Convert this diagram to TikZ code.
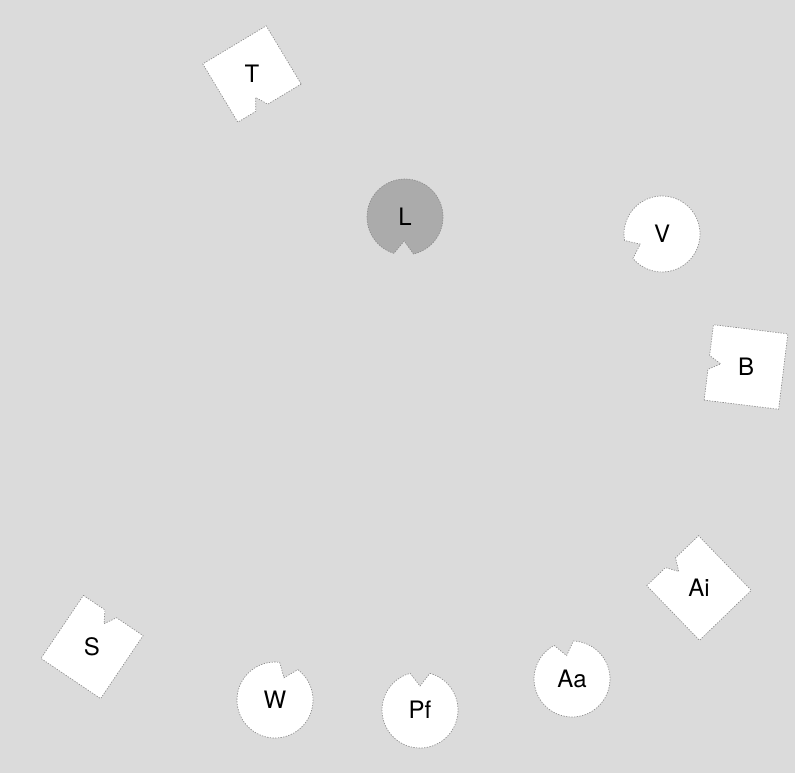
\documentclass[tikz,border=0pt]{standalone}
\usepackage{fontspec}
\setsansfont{TeX Gyre Heros}

\tikzset{
  piece/.style={fill=white, draw=black!45, line width=0.5pt, dash pattern=on 1pt off 1pt},
  lab/.style={font=\sffamily\fontsize{18}{21}\selectfont, text=black, inner sep=0pt}
}
% disc with a V cut: name, centre, cut angle, fill, label
\newcommand{\notchdisc}[5]{%
  \begin{scope}[shift={(#2)}]
    \filldraw[piece, fill=#4] (#3+15:38) arc[start angle=#3+15, delta angle=330, radius=38]
      -- (#3:24) -- cycle;
  \end{scope}
  \node[lab] (#1) at (#2) {#5};}
% card with a V cut in its top side: name, centre, rotation, width, height, cut position, label
\newcommand{\notchcard}[7]{%
  \begin{scope}[shift={(#2)}, rotate=#3]
    \filldraw[piece] (-#4/2,-#5/2) -- (#6-7,-#5/2) -- (#6,-#5/2+12) -- (#6+7,-#5/2)
      -- (#4/2,-#5/2) -- (#4/2,#5/2) -- (-#4/2,#5/2) -- cycle;
  \end{scope}
  \node[lab] (#1) at (#2) {#7};}

\begin{document}
\begin{tikzpicture}[x=0.75pt, y=-0.75pt]
  % table top
  \fill[black!14] (0,0) rectangle (795,773);
  % discs
  \notchdisc{L}{405,217}{92}{black!33}{L}
  \notchdisc{V}{662,234}{155}{white}{V}
  \notchdisc{W}{275,700}{-68}{white}{W}
  \notchdisc{Pf}{420,710}{-90}{white}{Pf}
  \notchdisc{Aa}{572,679}{-103}{white}{Aa}
  % cards
  \notchcard{T}{252,74}{-149}{74}{68}{9}{T}
  \notchcard{B}{746,367}{83}{76}{75}{0}{B}
  \notchcard{Ai}{699,588}{44}{72}{76}{-3}{Ai}
  \notchcard{S}{92,647}{-34}{72}{76}{-3}{S}
\end{tikzpicture}
\end{document}
